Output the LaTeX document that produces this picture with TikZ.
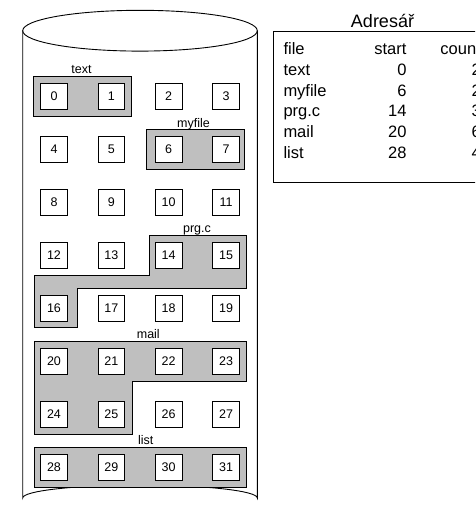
\documentclass[tikz,border=0pt]{standalone}
\usepackage{fontspec}
\setmainfont{Liberation Sans}
\begin{document}
\begin{tikzpicture}[x=1pt,y=-1pt,
  blk/.style={draw=black, fill=white, line width=0.9pt, minimum size=26.7pt,
              inner sep=0pt, font=\fontsize{12.5}{15}\selectfont},
  region/.style={draw=black, fill=black!25, line width=0.9pt},
  flabel/.style={anchor=base, inner sep=0pt, font=\fontsize{12.5}{15}\selectfont},
  tcell/.style={inner sep=0pt, font=\fontsize{16.5}{19}\selectfont},
  disk/.style={draw=black, line width=0.9pt}]
\useasboundingbox (0,0) rectangle (475,512);
\clip (0,0) rectangle (475,512);

% disk body
\draw[disk] (140,30.7) ellipse [x radius=117.3, y radius=20.4];
\draw[disk] (22.7,30.7) -- (22.7,498) arc [start angle=180, end angle=360, x radius=117.3, y radius=13] -- (257.3,30.7);

% file extents
\draw[region] (33.3,76.3) rectangle (131.3,116);
\draw[region] (146.7,129.7) rectangle (244.3,169);
\draw[region] (149.3,235) -- (246.3,235) -- (246.3,288) -- (77.3,288) -- (77.3,327.3)
  -- (34,327.3) -- (34,275.3) -- (149.3,275.3) -- cycle;
\draw[region] (34,341.7) -- (246.3,341.7) -- (246.3,381) -- (132.3,381) -- (132.3,434)
  -- (34,434) -- cycle;
\draw[region] (34,447) rectangle (246.3,487);

% file names
\node[flabel] (ltext)   at (81.5,73.5)  {text};
\node[flabel] (lmyfile) at (193.5,127)  {myfile};
\node[flabel] (lprg)    at (197,232.3)  {prg.c};
\node[flabel] (lmail)   at (148.3,338.7) {mail};
\node[flabel] (llist)   at (145.7,444.3) {list};

% disk blocks 0..31
\foreach \r in {0,...,7}{
  \foreach \c/\x in {0/54,1/111.3,2/168.7,3/226}{
    \pgfmathtruncatemacro{\n}{4*\r+\c}
    \node[blk] (b\n) at (\x,{96.5+53*\r}) {\n};
  }
}

% directory
\node[inner sep=0pt, anchor=base, font=\fontsize{18}{21}\selectfont] (title) at (382.5,27.3) {Adresář};
\draw[line width=0.9pt] (273.5,31.5) rectangle (520,182.5);
\foreach \i/\name/\start/\cnt [count=\k from 0] in
   {0/file/start/count,1/text/0/2,2/myfile/6/2,3/prg.c/14/3,4/mail/20/6,5/list/28/4}{
  \node[tcell, anchor=base west] (f\k) at (283.3,{54.5+20.8*\i}) {\name};
  \node[tcell, anchor=base east] (s\k) at (406.7,{54.5+20.8*\i}) {\start};
  \node[tcell, anchor=base east] (c\k) at (481,{54.5+20.8*\i}) {\cnt};
}
\end{tikzpicture}
\end{document}
